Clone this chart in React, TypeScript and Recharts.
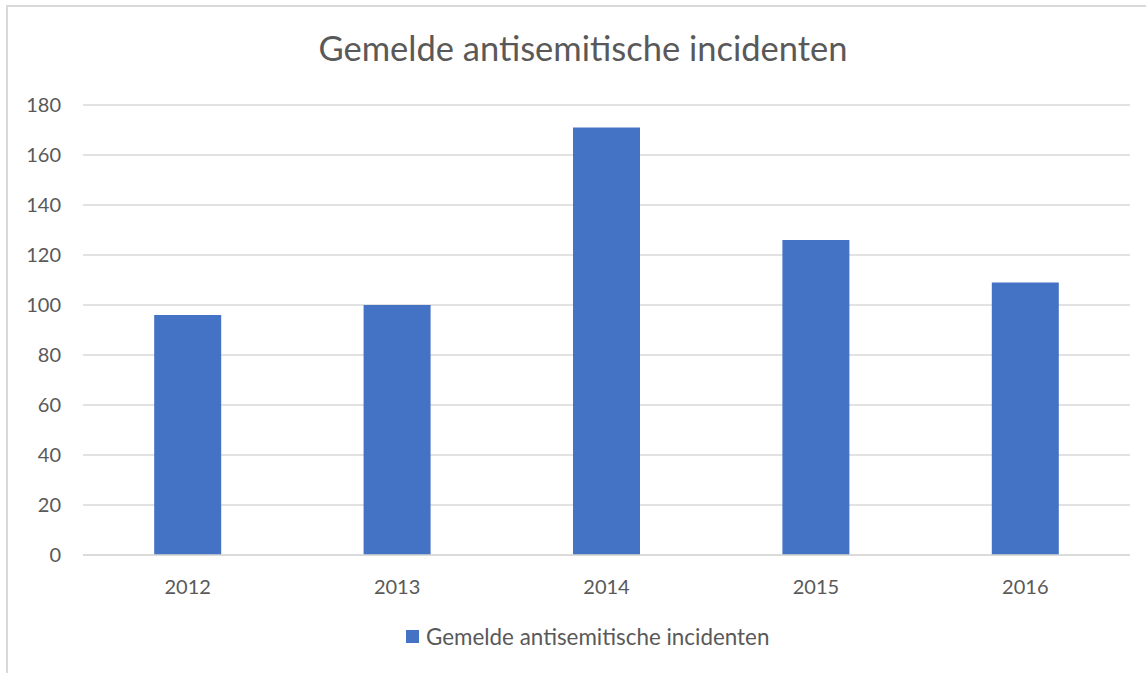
import { BarChart, Bar, XAxis, YAxis, CartesianGrid } from "recharts";

const years = ["2012", "2013", "2014", "2015", "2016"];
const incidents = [96, 100, 171, 126, 109];
const yTicks = [0, 20, 40, 60, 80, 100, 120, 140, 160, 180];
const seriesName = "Gemelde antisemitische incidenten";
const chartTitle = "Gemelde antisemitische incidenten";

const BLUE = "#4472C4";
const TEXT = "#595959";
const GRID = "#D9D9D9";
const FONT = "Lato, 'Open Sans', sans-serif";

export default function App() {
  const data = years.map((y, i) => ({ year: y, value: incidents[i] }));

  return (
    <div
      style={{
        position: "fixed",
        left: 0,
        top: 0,
        width: 1146,
        height: 673,
        overflow: "hidden",
        background: "#fff",
        fontFamily: FONT,
      }}
    >
      {/* chart frame, runs off the right and bottom edge */}
      <div
        style={{
          position: "absolute",
          left: 6,
          top: 5,
          width: 1200,
          height: 720,
          border: `2px solid ${GRID}`,
          boxSizing: "border-box",
        }}
      />
      <div
        style={{
          position: "absolute",
          left: 0,
          top: 27,
          width: 1166,
          textAlign: "center",
          fontSize: 34.5,
          color: TEXT,
        }}
      >
        {chartTitle}
      </div>
      <div style={{ position: "absolute", left: 0, top: 0 }}>
        <BarChart
          width={1146}
          height={673}
          data={data}
          margin={{ top: 105, right: 16, bottom: 88, left: 0 }}
          barCategoryGap="34%"
        >
          <CartesianGrid stroke={GRID} strokeWidth={1.5} vertical={false} />
          <XAxis
            dataKey="year"
            height={30}
            axisLine={{ stroke: GRID, strokeWidth: 1.5 }}
            tickLine={false}
            tickSize={0}
            tickMargin={25}
            tick={{ fill: TEXT, fontSize: 20, fontFamily: FONT }}
          />
          <YAxis
            width={83}
            domain={[0, 180]}
            ticks={yTicks}
            axisLine={false}
            tickLine={false}
            tickSize={0}
            tickMargin={22}
            tick={{ fill: TEXT, fontSize: 20, fontFamily: FONT }}
          />
          <Bar dataKey="value" name={seriesName} fill={BLUE} isAnimationActive={false} />
        </BarChart>
      </div>
      <div
        style={{
          position: "absolute",
          left: 406,
          top: 623,
          display: "flex",
          alignItems: "center",
          fontSize: 22.4,
          color: TEXT,
        }}
      >
        <span style={{ width: 13, height: 13, background: BLUE, marginRight: 7, display: "inline-block" }} />
        {seriesName}
      </div>
    </div>
  );
}
